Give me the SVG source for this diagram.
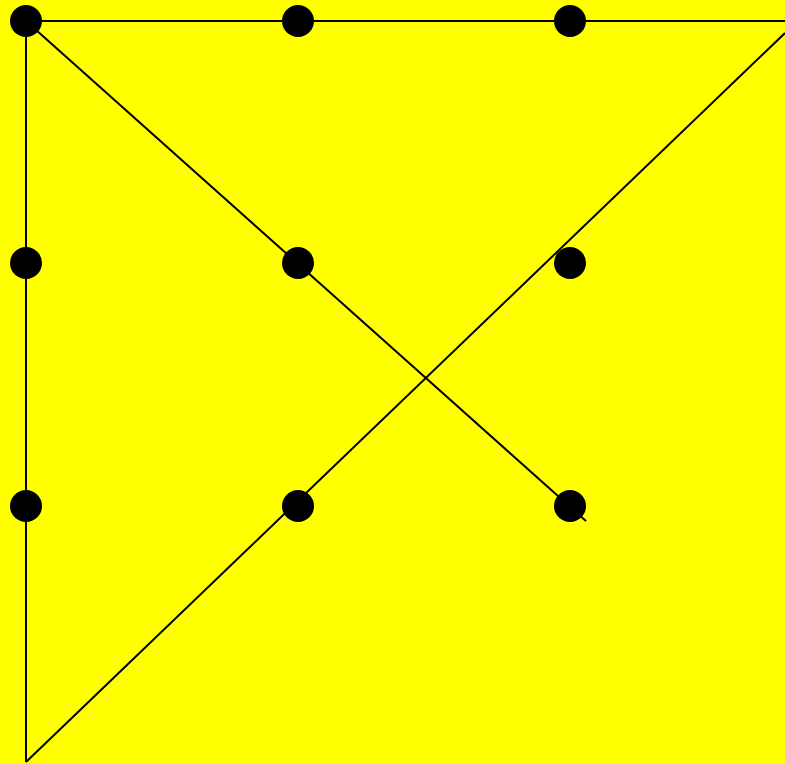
<svg xmlns="http://www.w3.org/2000/svg" width="785" height="764" viewBox="0 0 785 764">
<style>
.dot{fill:#000}
.ln{stroke:#000;stroke-width:2;fill:none}
</style>
<rect x="0" y="0" width="785" height="764" fill="#ffff00"/>
<g id="connectors">
<line class="ln" x1="26" y1="21" x2="785" y2="21"/>
<line class="ln" x1="26" y1="21" x2="26" y2="762"/>
<line class="ln" x1="26" y1="762" x2="785" y2="33"/>
<line class="ln" x1="26" y1="21" x2="586" y2="521"/>
</g>
<g id="dot-1-1"><circle class="dot" cx="26" cy="21" r="16"/></g>
<g id="dot-1-2"><circle class="dot" cx="298" cy="21" r="16"/></g>
<g id="dot-1-3"><circle class="dot" cx="570" cy="21" r="16"/></g>
<g id="dot-2-1"><circle class="dot" cx="26" cy="263" r="16"/></g>
<g id="dot-2-2"><circle class="dot" cx="298" cy="263" r="16"/></g>
<g id="dot-2-3"><circle class="dot" cx="570" cy="263" r="16"/></g>
<g id="dot-3-1"><circle class="dot" cx="26" cy="506" r="16"/></g>
<g id="dot-3-2"><circle class="dot" cx="298" cy="506" r="16"/></g>
<g id="dot-3-3"><circle class="dot" cx="570" cy="506" r="16"/></g>
</svg>
